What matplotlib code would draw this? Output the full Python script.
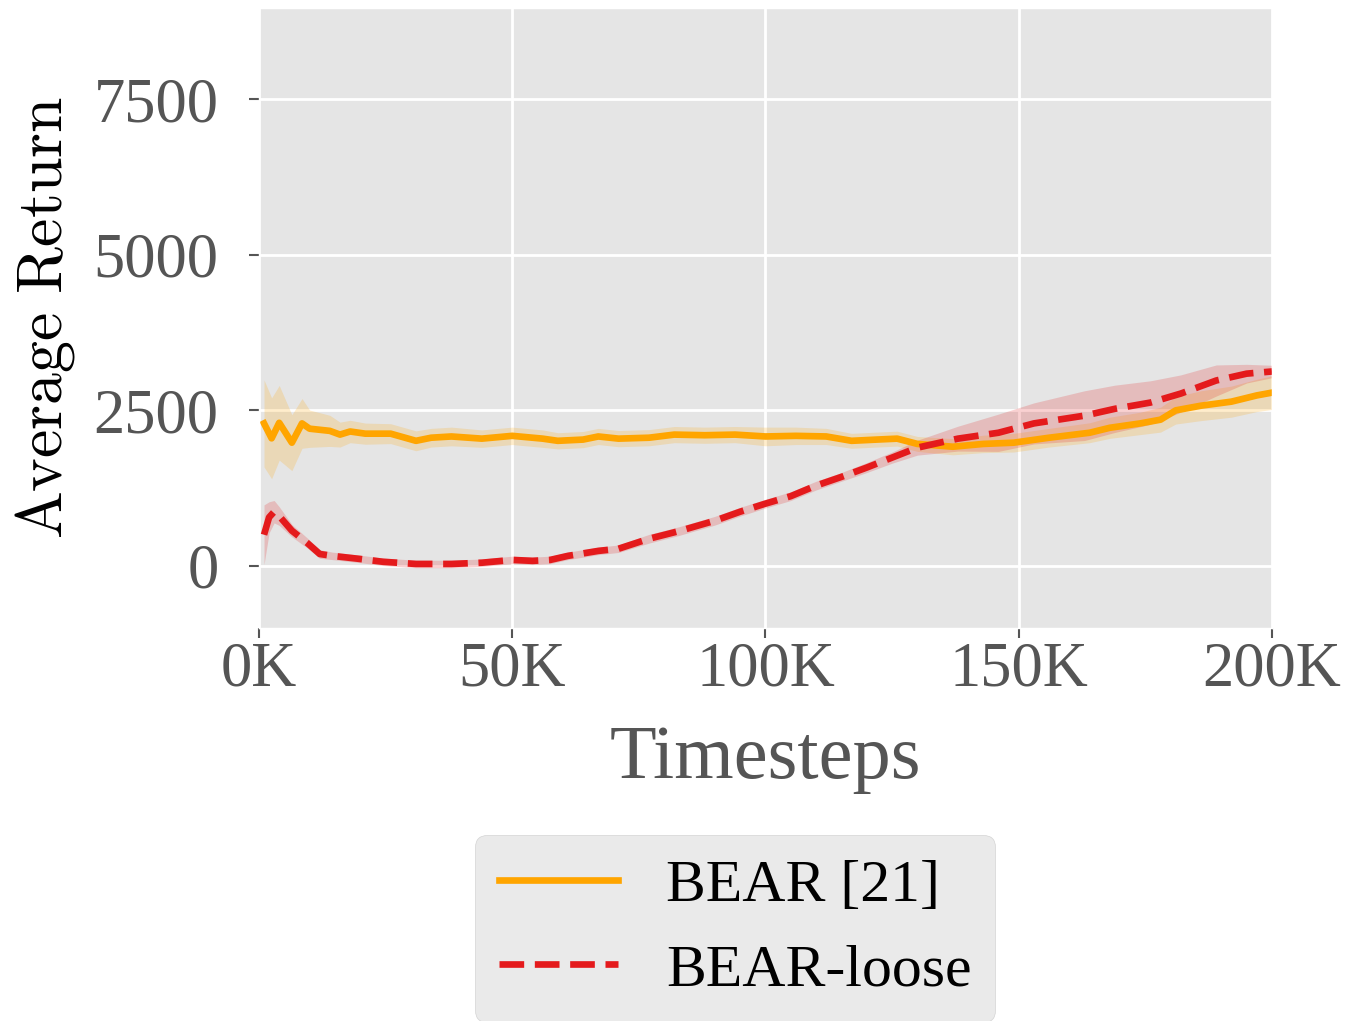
import numpy as np
import matplotlib
matplotlib.use("Agg")
import matplotlib.pyplot as plt
from matplotlib.ticker import FuncFormatter

plt.style.use("ggplot")
plt.rcParams["font.family"] = ["Liberation Serif", "DejaVu Serif"]
plt.rcParams["mathtext.fontset"] = "cm"

# BEAR [21] (timesteps in K)
t_bear = [1, 2.5, 4, 6.5, 8.5, 10, 14, 16, 18, 21, 26, 31, 34, 38, 44, 50, 56, 59,
          64, 67, 71, 77, 82, 88, 94, 100, 106, 112, 117, 122, 126, 130, 137, 143,
          149, 156, 164, 168, 174, 178, 181, 186, 192, 197, 200]
bear_mean = [2290, 2050, 2300, 1980, 2290, 2205, 2170, 2110, 2160, 2125, 2125, 2010,
             2060, 2080, 2045, 2090, 2045, 2010, 2030, 2080, 2045, 2060, 2110, 2100,
             2110, 2080, 2090, 2080, 2010, 2030, 2045, 1960, 1915, 1960, 1980, 2060,
             2140, 2220, 2290, 2350, 2500, 2575, 2640, 2740, 2785]
bear_std = [700, 650, 600, 450, 400, 300, 250, 200, 180, 170, 160, 160, 150, 150, 140,
            140, 140, 130, 130, 130, 130, 130, 130, 130, 130, 150, 140, 130, 120, 120,
            120, 120, 130, 140, 150, 150, 160, 170, 180, 200, 220, 240, 250, 260, 270]

# BEAR-loose
t_loose = [1, 2, 3, 4, 6.5, 9.5, 12, 14.5, 20, 24.5, 31, 38, 44, 50, 54, 57.5, 61, 67,
           71, 77, 83, 90, 95, 100, 105, 110, 115, 120, 125, 130, 138, 146, 153, 163,
           169, 176, 182, 189, 195, 200]
loose_mean = [500, 780, 870, 800, 565, 370, 190, 160, 110, 65, 30, 30, 50, 95, 80, 95,
              160, 240, 275, 435, 560, 725, 870, 1000, 1120, 1290, 1430, 1580, 1740,
              1900, 2045, 2140, 2290, 2415, 2525, 2625, 2770, 2980, 3090, 3125]
loose_std = [480, 250, 180, 150, 100, 80, 70, 60, 60, 60, 60, 60, 60, 60, 60, 60, 60,
             60, 60, 70, 70, 70, 70, 70, 70, 70, 70, 80, 90, 120, 200, 300, 330, 400,
             380, 350, 300, 250, 150, 100]

fig = plt.figure(figsize=(13.48, 10.21), dpi=100)
ax = fig.add_axes([0.1921, 0.3849, 0.7515, 0.6073])

x1 = np.array(t_bear) * 1000
m1 = np.array(bear_mean)
s1 = np.array(bear_std)
x2 = np.array(t_loose) * 1000
m2 = np.array(loose_mean)
s2 = np.array(loose_std)

ax.fill_between(x1, m1 - s1, m1 + s1, color="#FFA500", alpha=0.2, lw=0)
ax.fill_between(x2, m2 - s2, m2 + s2, color="#E41A1C", alpha=0.2, lw=0)
ax.plot(x1, m1, color="#FFA500", lw=4.8, label="BEAR [21]")
ax.plot(x2, m2, color="#E41A1C", lw=4.8, ls="--", label="BEAR-loose")

ax.set_xlim(0, 200000)
ax.set_ylim(-1000, 8970)
ax.set_xticks([0, 50000, 100000, 150000, 200000])
ax.set_yticks([0, 2500, 5000, 7500])
ax.xaxis.set_major_formatter(FuncFormatter(lambda v, p: "%dK" % (v / 1000)))
ax.grid(color="white", lw=2)
ax.tick_params(axis="both", labelsize=45, colors="#555555", length=7, width=1.5)
ax.tick_params(axis="x", pad=3)
ax.tick_params(axis="y", pad=22)

ax.set_xlabel("Timesteps", fontsize=55, color="#555555", labelpad=18)
ax.set_ylabel(r"$\mathrm{Average\ Return}$", fontsize=46, color="black", labelpad=12)

fig.legend(loc="upper center", bbox_to_anchor=(735 / 1348, 186 / 1021),
           bbox_transform=fig.transFigure, borderaxespad=0, fontsize=43,
           handlelength=2.0, facecolor="#E5E5E5", edgecolor="#CCCCCC",
           framealpha=0.8, labelcolor="black")

fig.savefig("out.png", dpi=100)
